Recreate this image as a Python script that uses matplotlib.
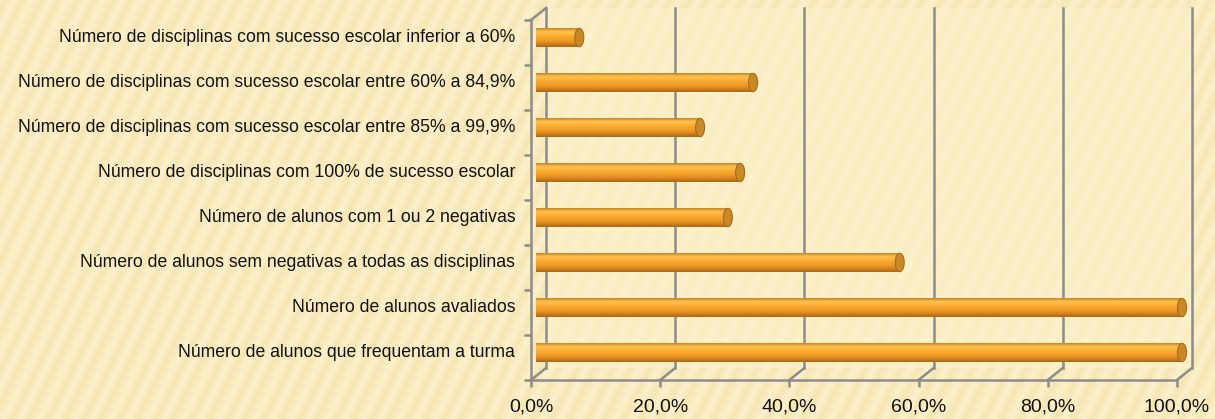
import numpy as np
import matplotlib.pyplot as plt
from matplotlib.patches import Rectangle, Ellipse, Polygon
from matplotlib.lines import Line2D
from matplotlib.transforms import IdentityTransform
from matplotlib.ticker import FuncFormatter

# Indicadores de sucesso escolar (% do total)
categorias = [
    "Número de alunos que frequentam a turma",
    "Número de alunos avaliados",
    "Número de alunos sem negativas a todas as disciplinas",
    "Número de alunos com 1 ou 2 negativas",
    "Número de disciplinas com 100% de sucesso escolar",
    "Número de disciplinas com sucesso escolar entre 85% a 99,9%",
    "Número de disciplinas com sucesso escolar entre 60% a 84,9%",
    "Número de disciplinas com sucesso escolar inferior a 60%",
]
percentagens = [100.0, 100.0, 56.3, 29.7, 31.6, 25.4, 33.6, 6.7]
marcas_x = [0, 20, 40, 60, 80, 100]

W, H, DPI = 1215, 419, 100
GRID = "#8c8c8c"
plt.rcParams['font.family'] = ['Liberation Sans', 'DejaVu Sans']

fig = plt.figure(figsize=(W / DPI, H / DPI), dpi=DPI)
fig.patch.set_facecolor("#fbeec3")

# fundo com riscas diagonais
bg = fig.add_axes([0, 0, 1, 1], zorder=0)
yy, xx = np.mgrid[0:H, 0:W]
ris = 0.5 + 0.5 * np.sin(2 * np.pi * (xx + 0.5 * yy) / 18.0)
base = np.array([252, 240, 202]) / 255.0
escuro = np.array([245, 228, 175]) / 255.0
k = ris[..., None] * 0.75
img = base[None, None, :] * (1 - k) + escuro[None, None, :] * k
bg.imshow(img, extent=[0, W, H, 0], aspect="auto", interpolation="bilinear")
bg.set_xlim(0, W)
bg.set_ylim(H, 0)
bg.axis("off")

# plano da frente (eixos) e profundidade 3D
x0, x1, ytop, ybot = 531, 1177, 20, 380
dx, dy = 15, 12
ax = fig.add_axes([x0 / W, 1 - ybot / H, (x1 - x0) / W, (ybot - ytop) / H], zorder=2)
ax.patch.set_alpha(0)
ax.set_xlim(0, 100)
ax.set_ylim(0, 8)
ax.set_xticks(marcas_x)
ax.xaxis.set_major_formatter(FuncFormatter(lambda v, p: f"{v:.1f}%".replace(".", ",")))
ax.set_yticks(np.arange(0, 9))
ax.set_yticklabels([])
ax.tick_params(axis="both", direction="out", length=5, width=1.8, color=GRID,
               labelsize=14, labelcolor="#111111")
ax.tick_params(axis="x", pad=8)
for s in ("top", "right"):
    ax.spines[s].set_visible(False)
for s in ("left", "bottom"):
    ax.spines[s].set_color(GRID)
    ax.spines[s].set_linewidth(1.8)

fig.canvas.draw()
tr = ax.transData
def px(x, y):
    return tr.transform((x, y))

# parede do fundo
c0 = px(0, 0) + [dx, dy]
c1 = px(100, 8) + [dx, dy]
fig.add_artist(Polygon([[c0[0], c0[1]], [c1[0], c0[1]], [c1[0], c1[1]], [c0[0], c1[1]]],
                       closed=True, transform=IdentityTransform(), facecolor="#fdf2cd",
                       edgecolor="none", alpha=0.55, zorder=1))
for t in marcas_x:
    a = px(t, 0)
    b = px(t, 8)
    fig.add_artist(Line2D([a[0] + dx, b[0] + dx], [a[1] + dy, b[1] + dy], color=GRID,
                          lw=1.8, transform=IdentityTransform(), zorder=1.5))
    fig.add_artist(Line2D([a[0], a[0] + dx], [a[1], a[1] + dy], color=GRID,
                          lw=1.8, transform=IdentityTransform(), zorder=1.5))
a = px(0, 8)
fig.add_artist(Line2D([a[0], a[0] + dx], [a[1], a[1] + dy], color=GRID,
                      lw=1.8, transform=IdentityTransform(), zorder=1.5))

# barras cilíndricas, a meio da profundidade
bx, by = 5, 5
axb = fig.add_axes([(x0 + bx) / W, 1 - (ybot - by) / H, (x1 - x0) / W, (ybot - ytop) / H],
                   zorder=3)
axb.patch.set_alpha(0)
axb.axis("off")
h = 0.42
grad = np.array([
    [205, 140, 45], [250, 184, 72], [254, 190, 70], [252, 178, 58], [248, 168, 48],
    [245, 162, 42], [238, 154, 38], [224, 142, 32], [204, 126, 28], [176, 108, 24],
]) / 255.0
grad = grad[:, None, :]
for i, v in enumerate(percentagens):
    yc = i + 0.5
    rect = Rectangle((0, yc - h / 2), v, h, transform=axb.transData, facecolor="none",
                     edgecolor="none")
    axb.add_patch(rect)
    im = axb.imshow(grad, extent=[0, v, yc - h / 2, yc + h / 2], aspect="auto",
                    interpolation="bilinear", zorder=3)
    im.set_clip_path(rect)
    axb.add_patch(Ellipse((v, yc), 1.4, h * 0.97, facecolor="#c88926",
                          edgecolor="#a66c1a", lw=0.8, zorder=4, clip_on=False))
axb.set_xlim(0, 100)
axb.set_ylim(0, 8)
for i, c in enumerate(categorias):
    axb.text(-3.2, i + 0.5, c, ha="right", va="center", fontsize=12.7, color="#111111")

fig.savefig("out.png", dpi=DPI, facecolor=fig.get_facecolor())
